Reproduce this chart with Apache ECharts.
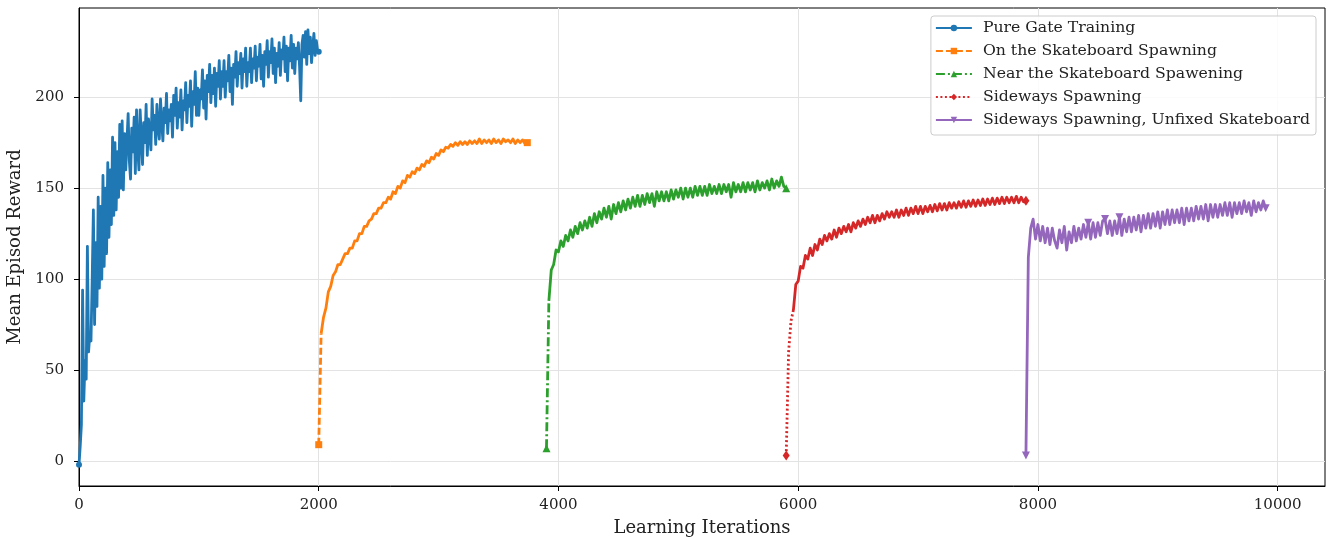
<!DOCTYPE html>
<html>
<head>
<meta charset="utf-8">
<script src="https://cdn.jsdelivr.net/npm/echarts@6/dist/echarts.min.js"></script>
<style>html,body{margin:0;padding:0;background:#fff;}#c{width:1335px;height:540px;}</style>
</head>
<body>
<div id="c"></div>
<script>
// ---- data ----
const seriesNames = ['Pure Gate Training','On the Skateboard Spawning','Near the Skateboard Spawening','Sideways Spawning','Sideways Spawning, Unfixed Skateboard'];
const xTicks = [0,2000,4000,6000,8000,10000];
const yTicks = [0,50,100,150,200];

const blueStart = 0, blueStep = 10;
const blueVals = [-2,8,20,94,33,55,45,118,60,70,
66,100,138,75,120,85,145,95,140,100,
157,107,150,114,164,123,160,130,178,135,
175,138,170,145,185,150,187,149,180,160,
176,191,165,155,183,170,189,158,193,172,
160,193,178,163,186,175,196,168,188,180,
171,199,182,190,174,196,183,177,199,186,
176,194,186,202,180,193,187,196,178,201,
190,205,183,197,189,204,182,198,193,208,
186,201,195,209,184,203,196,214,190,205,
190,204,199,215,194,209,188,212,203,218,
197,212,202,216,195,213,206,220,199,214,
206,220,200,214,209,223,203,216,196,218,
211,225,206,219,213,224,205,221,214,227,
206,219,214,227,208,221,216,228,209,222,
217,229,210,223,206,225,218,231,211,225,
219,232,213,227,208,224,217,230,212,226,
221,233,214,228,209,227,220,234,216,229,
213,227,221,230,217,198,229,234,222,236,
218,237,224,233,219,228,235,223,231,226,
225];
const orangeStart = 2000, orangeStep = 20;
const orangeVals = [9,70,79,84,93,96,102,104,108,108,
111,114,114,117,117,121,121,125,125,129,
129,132,133,136,136,139,139,142,142,145,
144,148,147,151,150,154,153,157,156,159,
158,161,160,163,162,165,164,167,166,169,
168,171,170,172.5,172,174,173,175,173.5,175.5,
174,175.5,174,176,174.5,176,174.5,177,174.5,176.5,
175,176.5,174.5,177,175,176.5,174.5,177,175.5,176.5,
175,177,174.5,176.5,175,176.5,174.5,175];
const greenStart = 3900, greenStep = 20;
const greenVals = [7,88,105,108,116,115,121,118,124,121,
127,123,129,125,131,127,132,128,134,129,
136,131,137,133,139,134,140,133,141,136,
142,137,143,138,144,139,145,140,146,140,
146,141,147,142,147,140,148,143,148,143,
148,143,149,144,149,145,150,144,150,145,
150,145,151,146,151,146,151,146,152,147,
151,147,152,147,152,148,152,145,153,148,
152,148,153,148,153,149,153,148,154,149,
153,150,154,149,155,150,154,151,156,151,
150];
const redStart = 5900, redStep = 20;
const redVals = [3,60,77,83,97,99,107,106,113,111,
117,113,119,116,122,119,124,121,125,122,
127,123,128,125,129,126,130,126,131,128,
132,129,133,130,134,131,135,131,135,132,
136,133,137,134,137,134,138,134,138,135,
139,135,139,136,140,136,140,136,140,137,
140.5,137,141,137.5,141.5,138,141.5,138,142,139,
142,139,142.5,139.5,143,139.5,143,140,143.5,140,
143.5,140.5,144,140.5,144,141,144.5,141,144.5,141.5,
145,141.5,145,142,145,142,145.5,142,145,142.5,
143];
const purpleStart = 7900, purpleStep = 20;
const purpleVals = [3,112,128,133,122,130,121,129,120,128,
119,128,121,117,127,120,129,116,126,120,
129,121,128,122,130,123,131,122,131,123,
131,124,132,133,125,132,124,132,125,134,
124,133,126,134,126,134,127,135,126,135,
128,136,128,136,129,137,128,137,130,138,
130,138,131,138,131,139,130,139,132,139,
132,140,133,140,133,141,132,141,134,141,
134,141,135,142,135,142,134,142,136,142,
136,143,137,142,135,143,137,142,138,143,
139];
const purpleMarks = [26,33,39];

const colors = ['#1f77b4','#ff7f0e','#2ca02c','#d62728','#9467bd'];
const FONT = 'DejaVu Serif';

function build(start, stepSize, vals, extraMarks) {
  const marks = [0, vals.length - 1].concat(extraMarks || []);
  return vals.map((v, i) => {
    const item = { value: [start + i * stepSize, v] };
    if (marks.indexOf(i) < 0) item.symbol = 'none';
    return item;
  });
}

const triDown = 'path://M0,0 L10,0 L5,10 Z';
// split: index where the sparse (styled) jump ends and the dense noisy band begins
const defs = [
  { start: blueStart, step: blueStep, vals: blueVals, symbol: 'circle', size: 6, type: 'solid', split: 0 },
  { start: orangeStart, step: orangeStep, vals: orangeVals, symbol: 'rect', size: 7, type: [7, 3], split: 1 },
  { start: greenStart, step: greenStep, vals: greenVals, symbol: 'triangle', size: 8, type: [9, 3, 2, 3], split: 1 },
  { start: redStart, step: redStep, vals: redVals, symbol: 'diamond', size: [7, 10], type: [2, 2.5], split: 3 },
  { start: purpleStart, step: purpleStep, vals: purpleVals, symbol: triDown, size: 8, type: 'solid', split: 0, extra: purpleMarks }
];

function mkSeries(k, d, data, type, z) {
  return {
    name: seriesNames[k],
    type: 'line',
    data: data,
    symbol: d.symbol,
    symbolSize: d.size,
    showSymbol: true,
    showAllSymbol: true,
    color: colors[k],
    itemStyle: { color: colors[k] },
    lineStyle: { color: colors[k], width: 2.8, type: type, cap: 'butt', join: 'round' },
    animation: false,
    z: z
  };
}

const series = [];
defs.forEach((d, k) => {
  const all = build(d.start, d.step, d.vals, d.extra);
  if (d.split > 0) {
    series.push(mkSeries(k, d, all.slice(0, d.split + 1), d.type, 2 + k));
    series.push(mkSeries(k, d, all.slice(d.split), 'solid', 2 + k));
  } else {
    series.push(mkSeries(k, d, all, d.type, 2 + k));
  }
});

const chart = echarts.init(document.getElementById('c'));
chart.setOption({
  animation: false,
  backgroundColor: '#fff',
  grid: { left: 79, right: 10, top: 8, bottom: 54, outerBoundsMode: 'none', containLabel: false, show: true, borderColor: '#000', borderWidth: 1, backgroundColor: 'transparent' },
  legend: {
    orient: 'vertical', right: 19, top: 16, align: 'left',
    itemWidth: 36, itemHeight: 8, itemGap: 7,
    padding: [4, 6, 7, 4],
    borderColor: '#cccccc', borderWidth: 1, borderRadius: 3,
    backgroundColor: 'rgba(255,255,255,0.85)',
    textStyle: { fontFamily: FONT, fontSize: 15.7, color: '#222', lineHeight: 16, padding: [0, 0, 0, 6] },
    data: seriesNames
  },
  xAxis: {
    type: 'value', min: 0, max: 10395,
    name: 'Learning Iterations', nameLocation: 'middle', nameGap: 33,
    nameTextStyle: { fontFamily: FONT, fontSize: 18, color: '#222' },
    axisLine: { show: true, onZero: false, lineStyle: { color: '#000', width: 1 } },
    axisTick: { show: true, inside: false, length: 5, customValues: xTicks, lineStyle: { color: '#000' } },
    axisLabel: { customValues: xTicks, formatter: v => String(v), fontFamily: FONT, fontSize: 15, color: '#222', margin: 12 },
    splitLine: { show: true, lineStyle: { color: '#e3e3e3', width: 1 } }
  },
  yAxis: {
    type: 'value', min: -13.7, max: 249,
    name: 'Mean Episod Reward', nameLocation: 'middle', nameGap: 53,
    nameTextStyle: { fontFamily: FONT, fontSize: 18, color: '#222' },
    axisLine: { show: true, onZero: false, lineStyle: { color: '#000', width: 1 } },
    axisTick: { show: true, inside: false, length: 5, customValues: yTicks, lineStyle: { color: '#000' } },
    axisLabel: { customValues: yTicks, formatter: v => String(v), fontFamily: FONT, fontSize: 15, color: '#222', margin: 15 },
    splitLine: { show: true, lineStyle: { color: '#e3e3e3', width: 1 } }
  },
  series: series
});
</script>
</body>
</html>
